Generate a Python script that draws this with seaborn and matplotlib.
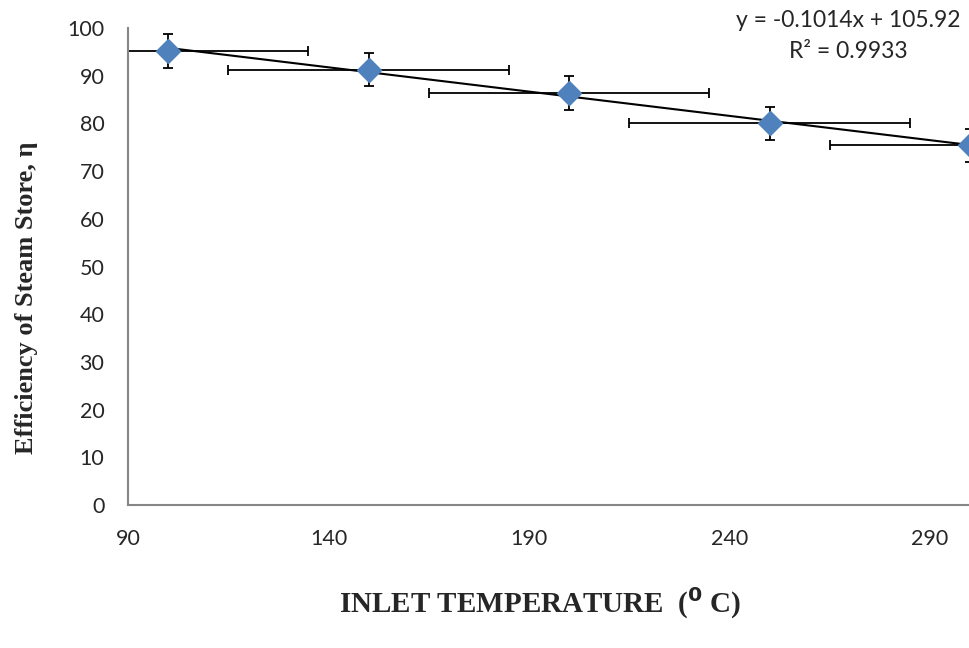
import numpy as np
import pandas as pd
import seaborn as sns
import matplotlib.pyplot as plt

temperature = [100, 150, 200, 250, 300]
efficiency = [95.2, 91.3, 86.4, 80.0, 75.4]
x_err = [35, 35, 35, 35, 35]
y_err = [3.5, 3.5, 3.5, 3.5, 3.5]

df = pd.DataFrame({"temp": temperature, "eff": efficiency})

sns.set_style("white")
plt.rcParams['font.family'] = ['Lato', 'DejaVu Sans']

fig = plt.figure(figsize=(9.7, 6.48), dpi=100)
ax = fig.add_axes([0.132, 0.2207, 0.868, 0.736])

# error bars (under the markers)
ax.errorbar(df["temp"], df["eff"], xerr=x_err, yerr=y_err, fmt="none",
            ecolor="black", elinewidth=1.3, capsize=3.5, capthick=1.3, zorder=2)

# linear trendline
sns.regplot(data=df, x="temp", y="eff", ax=ax, scatter=False, ci=None,
            truncate=True, line_kws={"color": "black", "lw": 1.5, "zorder": 3})

sns.scatterplot(data=df, x="temp", y="eff", ax=ax, marker="D", s=150,
                color="#4F81BD", edgecolor="#4F81BD", zorder=4)

ax.set_xlim(90, 300)
ax.set_ylim(0, 100)
ax.set_xticks([90, 140, 190, 240, 290])
ax.set_yticks(range(0, 101, 10))

for s in ["top", "right"]:
    ax.spines[s].set_visible(False)
for s in ["left", "bottom"]:
    ax.spines[s].set_color("#868686")
    ax.spines[s].set_linewidth(1.5)
ax.tick_params(axis="both", direction="out", width=1.2,
               color="#868686", labelsize=15.5)
ax.tick_params(axis="y", length=7, pad=10)
ax.tick_params(axis="x", length=6, pad=11)

ax.set_xlabel("")
ax.set_ylabel("")
fig.text(0.557, 0.069, r"INLET TEMPERATURE  ($^{\mathbf{0}}$ C)", ha="center", va="center",
         family="Liberation Serif", fontweight="bold", fontsize=21)
fig.text(0.027, 0.54, "Efficiency of Steam Store, η", ha="center", va="center",
         rotation=90, family="Liberation Serif", fontweight="bold", fontsize=19)

fig.text(0.875, 0.968, "y = -0.1014x + 105.92", ha="center", va="center", fontsize=16.5)
fig.text(0.875, 0.921, "R² = 0.9933", ha="center", va="center", fontsize=16.5)

fig.savefig("out.png", dpi=100)
